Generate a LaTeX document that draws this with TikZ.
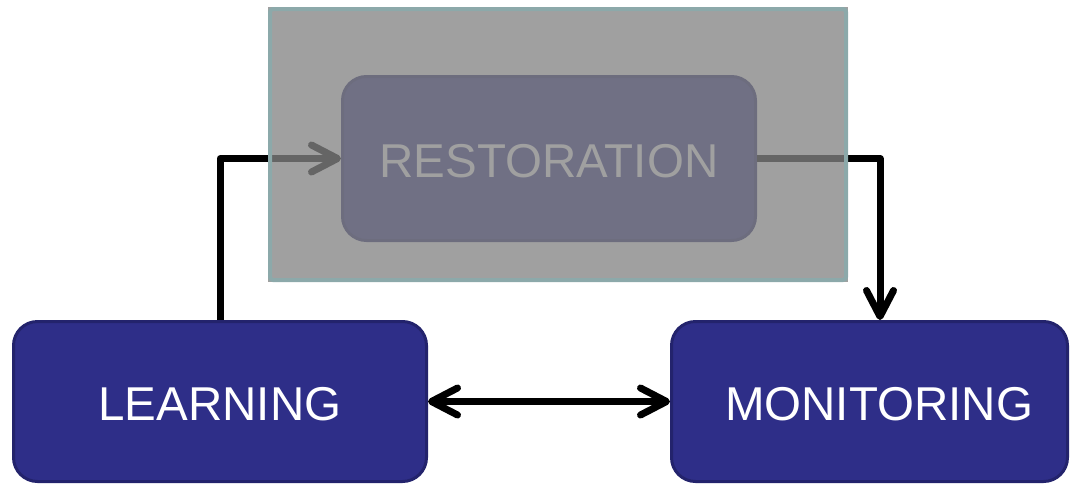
\documentclass[tikz,border=0pt]{standalone}
\usepackage{fontspec}
\setmainfont{Liberation Sans}
\usetikzlibrary{arrows.meta}
\definecolor{boxfill}{HTML}{2E2E88}
\definecolor{boxedge}{HTML}{23236C}
\definecolor{veil}{HTML}{848484}
\definecolor{veiledge}{HTML}{8CA9AA}
\tikzset{
  stagetext/.style={text=white, font=\fontsize{47.5}{56}\selectfont, inner sep=0pt, text height=38.5pt, text depth=0pt},
  stage/.style={draw=boxedge, line width=3pt, fill=boxfill, rounded corners=24pt, stagetext},
  barb/.tip={Straight Barb[length=26pt,width=27pt,round]},
  flow/.style={line width=7pt, line join=round, -barb},
}
\begin{document}
\begin{tikzpicture}[x=1pt,y=-1pt]
\useasboundingbox (0,0) rectangle (1071,485);
% the three stages
\node[stage, minimum width=413pt, minimum height=160pt] (learn) at (220,401.5) {LEARNING};
\node[stage, minimum width=396pt, minimum height=160pt,
      label={[stagetext, xshift=9.5pt]center:MONITORING}] (monitor) at (869.5,401.5) {};
\node[stage, minimum width=413pt, minimum height=164pt] (restore) at (549,158.5) {RESTORATION};
% connectors
\draw[flow] (learn.north) |- (restore.west);
\draw[flow] (restore.east) -| ([xshift=10.5pt]monitor.north);
\draw[flow, barb-barb] (learn.east) -- (monitor.west);
% translucent veil over the restoration stage
\fill[veil, opacity=0.77] (268,7) rectangle (848,282);
\draw[veiledge, line width=4pt, rounded corners=3pt] (270,9) rectangle (846,280);
\end{tikzpicture}
\end{document}
